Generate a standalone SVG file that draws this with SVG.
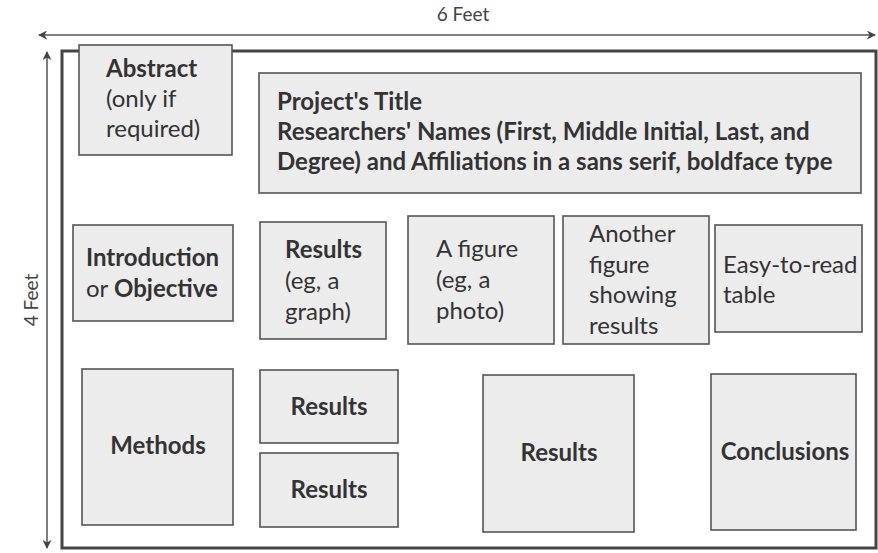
<svg xmlns="http://www.w3.org/2000/svg" width="878" height="553" viewBox="0 0 878 553">
<style>
.box{fill:#ececec;stroke:#555;stroke-width:1.6}
text{font-family:Lato,"Open Sans","DejaVu Sans",sans-serif;fill:#333;font-size:24px}
.b{font-weight:bold}
.dim{font-size:19px;fill:#444}
.ln{stroke:#555;stroke-width:1.5;fill:none}
</style>
<defs>
<marker id="ah" viewBox="0 0 10 10" refX="9" refY="5" markerWidth="9" markerHeight="9" markerUnits="userSpaceOnUse" orient="auto-start-reverse">
<path d="M0,0 L10,5 L0,10 L3,5 Z" fill="#444"/>
</marker>
</defs>
<rect width="878" height="553" fill="#fff"/>
<g id="connectors">
<line class="ln" x1="39" y1="35" x2="875" y2="35" marker-start="url(#ah)" marker-end="url(#ah)"/>
<line class="ln" x1="47" y1="52" x2="47" y2="548" marker-start="url(#ah)" marker-end="url(#ah)"/>
</g>
<text class="dim" x="463" y="21" text-anchor="middle">6 Feet</text>
<text class="dim" transform="translate(38,300) rotate(-90)" text-anchor="middle">4 Feet</text>
<rect id="poster" x="62" y="51" width="814" height="497" fill="none" stroke="#444" stroke-width="3"/>
<g id="abstract">
<rect class="box" x="79" y="45" width="153" height="110"/>
<text x="106" y="77"><tspan class="b">Abstract</tspan><tspan x="106" y="107">(only if</tspan><tspan x="106" y="137">required)</tspan></text>
</g>
<g id="title">
<rect class="box" x="259" y="73" width="602" height="120"/>
<text class="b" x="277" y="110" font-size="18">Project's Title</text>
<text class="b" x="277" y="140" font-size="25">Researchers' Names (First, Middle Initial, Last, and</text>
<text class="b" x="277" y="170" font-size="25">Degree) and Affiliations in a sans serif, boldface type</text>
</g>
<g id="intro">
<rect class="box" x="73" y="225" width="160" height="96"/>
<text x="86" y="266"><tspan class="b">Introduction</tspan><tspan x="86" y="297">or </tspan><tspan class="b">Objective</tspan></text>
</g>
<g id="results-graph">
<rect class="box" x="260" y="222" width="126" height="117"/>
<text x="285" y="258"><tspan class="b">Results</tspan><tspan x="285" y="289">(eg, a</tspan><tspan x="285" y="320">graph)</tspan></text>
</g>
<g id="figure-photo">
<rect class="box" x="408" y="216" width="146" height="128"/>
<text x="436" y="257">A figure<tspan x="436" y="288">(eg, a</tspan><tspan x="436" y="319">photo)</tspan></text>
</g>
<g id="another-figure">
<rect class="box" x="563" y="216" width="146" height="128"/>
<text x="589" y="242">Another<tspan x="589" y="273">figure</tspan><tspan x="589" y="303">showing</tspan><tspan x="589" y="334">results</tspan></text>
</g>
<g id="table">
<rect class="box" x="715" y="225" width="147" height="107"/>
<text x="723" y="273">Easy-to-read<tspan x="723" y="303">table</tspan></text>
</g>
<g id="methods">
<rect class="box" x="82" y="369" width="151" height="156"/>
<text class="b" x="158" y="454" text-anchor="middle">Methods</text>
</g>
<g id="results-top">
<rect class="box" x="260" y="370" width="138" height="73"/>
<text class="b" x="329" y="415" text-anchor="middle">Results</text>
</g>
<g id="results-bottom">
<rect class="box" x="260" y="453" width="138" height="74"/>
<text class="b" x="329" y="498" text-anchor="middle">Results</text>
</g>
<g id="results-big">
<rect class="box" x="483" y="375" width="151" height="157"/>
<text class="b" x="559" y="461" text-anchor="middle">Results</text>
</g>
<g id="conclusions">
<rect class="box" x="711" y="374" width="145" height="156"/>
<text class="b" x="785" y="460" text-anchor="middle">Conclusions</text>
</g>
</svg>
